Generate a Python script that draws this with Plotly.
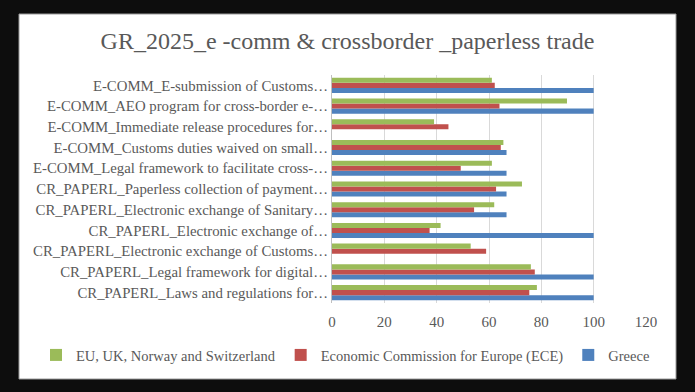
import plotly.graph_objects as go

categories = [
    "E-COMM_E-submission of Customs…",
    "E-COMM_AEO program for cross-border e-…",
    "E-COMM_Immediate release procedures for…",
    "E-COMM_Customs duties waived on small…",
    "E-COMM_Legal framework to facilitate cross-…",
    "CR_PAPERL_Paperless collection of payment…",
    "CR_PAPERL_Electronic exchange of Sanitary…",
    "CR_PAPERL_Electronic exchange of…",
    "CR_PAPERL_Electronic exchange of Customs…",
    "CR_PAPERL_Legal framework for digital…",
    "CR_PAPERL_Laws and regulations for…",
]
eu_vals = [61.1, 89.8, 39.0, 65.5, 61.1, 72.6, 62.0, 41.5, 53.0, 76.0, 78.3]
ece_vals = [62.2, 64.0, 44.5, 64.5, 49.2, 62.7, 54.3, 37.3, 58.9, 77.5, 75.4]
greece_vals = [100, 100, 0, 66.7, 66.7, 66.7, 66.7, 100, 0, 100, 100]
x_ticks = [0, 20, 40, 60, 80, 100, 120]

FONT = "Liberation Serif"
GREY = "#595959"

fig = go.Figure()
fig.add_trace(go.Bar(y=categories, x=greece_vals, name="Greece", orientation="h",
                     marker=dict(color="#4f81bd", line=dict(width=0))))
fig.add_trace(go.Bar(y=categories, x=ece_vals, name="Economic Commission for Europe (ECE)", orientation="h",
                     marker=dict(color="#c0504d", line=dict(width=0))))
fig.add_trace(go.Bar(y=categories, x=eu_vals, name="EU, UK, Norway and Switzerland", orientation="h",
                     marker=dict(color="#9bbb59", line=dict(width=0))))

L, R, T, B = 332, 49, 75, 89
W, H = 695, 392
pw = W - L - R
ph = H - T - B
def px_x(p):
    return (p - L) / pw
def px_y(p):
    return (H - B - p) / ph

fig.add_shape(type="rect", xref="paper", yref="paper",
              x0=px_x(19), x1=px_x(676), y0=px_y(379), y1=px_y(14),
              fillcolor="white", line=dict(color="#9a9a9a", width=1), layer="below")

fig.update_layout(
    width=W, height=H,
    margin=dict(l=L, r=R, t=T, b=B),
    paper_bgcolor="#0d0d0d",
    plot_bgcolor="white",
    barmode="group",
    bargap=0.27,
    bargroupgap=0,
    title=dict(text="GR_2025_e -comm & crossborder _paperless trade",
               x=0.5, xref="container", xanchor="center",
               y=1 - 41 / H, yref="container", yanchor="middle",
               font=dict(family=FONT, size=24, color=GREY)),
    font=dict(family=FONT, color=GREY, size=13),
    showlegend=True,
    legend=dict(orientation="h", xref="paper", x=px_x(36), xanchor="left",
                yref="paper", y=px_y(355), yanchor="middle",
                traceorder="reversed", font=dict(family=FONT, size=14.5, color=GREY),
                bgcolor="rgba(0,0,0,0)", itemwidth=30),
    xaxis=dict(range=[0, 120], tickvals=x_ticks, showgrid=True, gridcolor="#d9d9d9",
               zeroline=False, showline=False, ticks="", ticklabelstandoff=8,
               tickfont=dict(family=FONT, size=15, color=GREY)),
    yaxis=dict(categoryorder="array", categoryarray=categories[::-1],
               showline=True, linecolor="#bfbfbf", ticks="", showgrid=False,
               tickfont=dict(family=FONT, size=14.8, color=GREY)),
)

fig.write_html("out.html", config={"displayModeBar": False},
               post_script="document.body.style.margin='0';document.body.style.background='#0d0d0d';")
